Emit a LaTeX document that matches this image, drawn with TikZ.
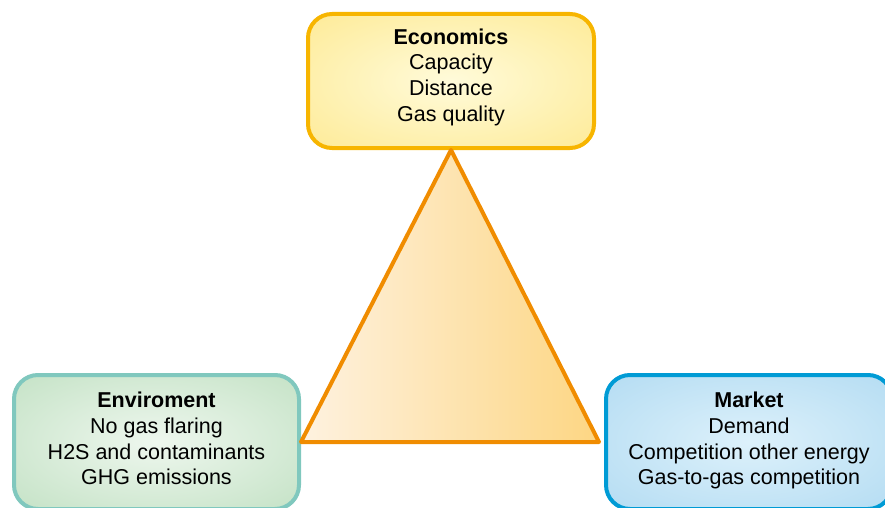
\documentclass[tikz,border=0pt]{standalone}
\usepackage{fontspec}
\setmainfont{Liberation Sans}

% colours
\definecolor{ecoline}{HTML}{F7B500}
\definecolor{ecoin}{HTML}{FFFBDA}
\definecolor{ecoout}{HTML}{FDE47C}
\definecolor{envline}{HTML}{80C8BE}
\definecolor{envin}{HTML}{EEF7EE}
\definecolor{envout}{HTML}{B4DAB6}
\definecolor{mktline}{HTML}{009BD5}
\definecolor{mktin}{HTML}{DDF1FB}
\definecolor{mktout}{HTML}{A4D4EF}
\definecolor{triline}{HTML}{F08C00}
\definecolor{trileft}{HTML}{FEF2E0}
\definecolor{triright}{HTML}{FDD683}

% soft glow inside the boxes
\pgfdeclareradialshading{ecoglow}{\pgfpointorigin}{color(0bp)=(ecoin); color(50bp)=(ecoout)}
\pgfdeclareradialshading{envglow}{\pgfpointorigin}{color(0bp)=(envin); color(50bp)=(envout)}
\pgfdeclareradialshading{mktglow}{\pgfpointorigin}{color(0bp)=(mktin); color(50bp)=(mktout)}

\tikzset{
  box/.style={rounded corners=24pt, line width=4pt, shade,
    minimum width=286pt, minimum height=134pt, inner sep=0pt,
    text depth=12pt, align=center, font=\fontsize{21.5}{25.7}\selectfont},
}

\begin{document}
\begin{tikzpicture}[x=1pt, y=-1pt]
    \useasboundingbox (0,0) rectangle (885,508);

    % the three boxes
    \node[box, draw=ecoline, shading=ecoglow] (eco) at (451,81)
        {\textbf{Economics}\\Capacity\\Distance\\Gas quality};
    \node[box, draw=envline, shading=envglow, minimum width=285pt, text depth=7pt] (env) at (156.5,442)
        {\textbf{Enviroment}\\No gas flaring\\H2S and contaminants\\GHG emissions};
    \node[box, draw=mktline, shading=mktglow, text depth=7pt] (mkt) at (749,442)
        {\textbf{Market}\\Demand\\Competition other energy\\Gas-to-gas competition};

    % triangle between them
    \coordinate (apex) at (eco.south);
    \coordinate (baseleft) at (env.east);
    \coordinate (baseright) at ([xshift=-5pt]mkt.west);
    \shadedraw[left color=trileft, right color=triright, draw=triline,
        line width=4pt, line join=round] (apex) -- (baseleft) -- (baseright) -- cycle;
\end{tikzpicture}
\end{document}
